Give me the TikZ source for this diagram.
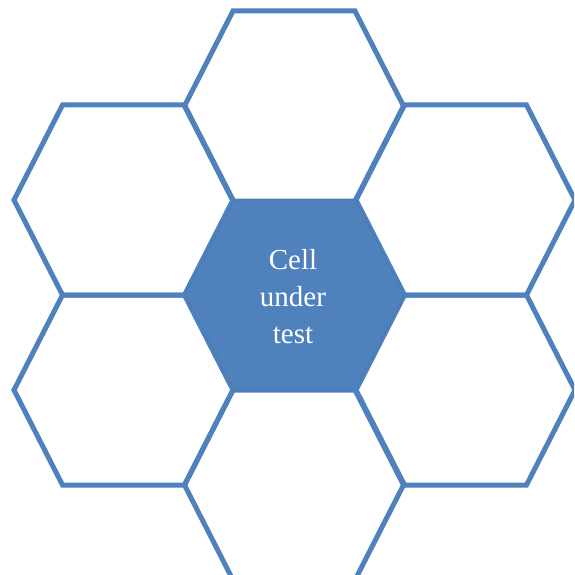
\documentclass[tikz,border=0pt]{standalone}
\usepackage{fontspec}
\setmainfont{Liberation Serif}
\definecolor{hexblue}{HTML}{4F81BD}
\definecolor{hexedge}{HTML}{4A7BB5}
\tikzset{
  hexline/.style={draw=hexblue, line width=5pt, line join=miter},
  hexfill/.style={fill=hexblue, draw=hexedge, line width=1.2pt, line join=miter},
  celltext/.style={text=white, align=center, font=\fontsize{29}{37}\selectfont, inner sep=0pt}
}
\newcommand{\hexpath}[1]{(#1)++(-109.5,0) -- ++(48.5,-95) -- ++(122,0) -- ++(48.5,95) -- ++(-48.5,95) -- ++(-122,0) -- cycle}
\begin{document}
\begin{tikzpicture}[x=1pt,y=-1pt]
\useasboundingbox (0,0) rectangle (574,575);
\coordinate (top) at (294,106);
\coordinate (lt) at (123.5,200);
\coordinate (rt) at (465.5,200);
\coordinate (lb) at (123.5,390);
\coordinate (rb) at (465.5,390);
\coordinate (bot) at (294,485);
\coordinate (mid) at (294.5,295);
\begin{scope}
\clip (0,0) rectangle (574,575);
\foreach \c in {top,lt,rt,lb,rb,bot}{
  \path[hexline] \hexpath{\c};
}
\path[hexfill] \hexpath{mid};
\end{scope}
\node[celltext] (label) at (293,297) {Cell\\under\\test};
\end{tikzpicture}
\end{document}
